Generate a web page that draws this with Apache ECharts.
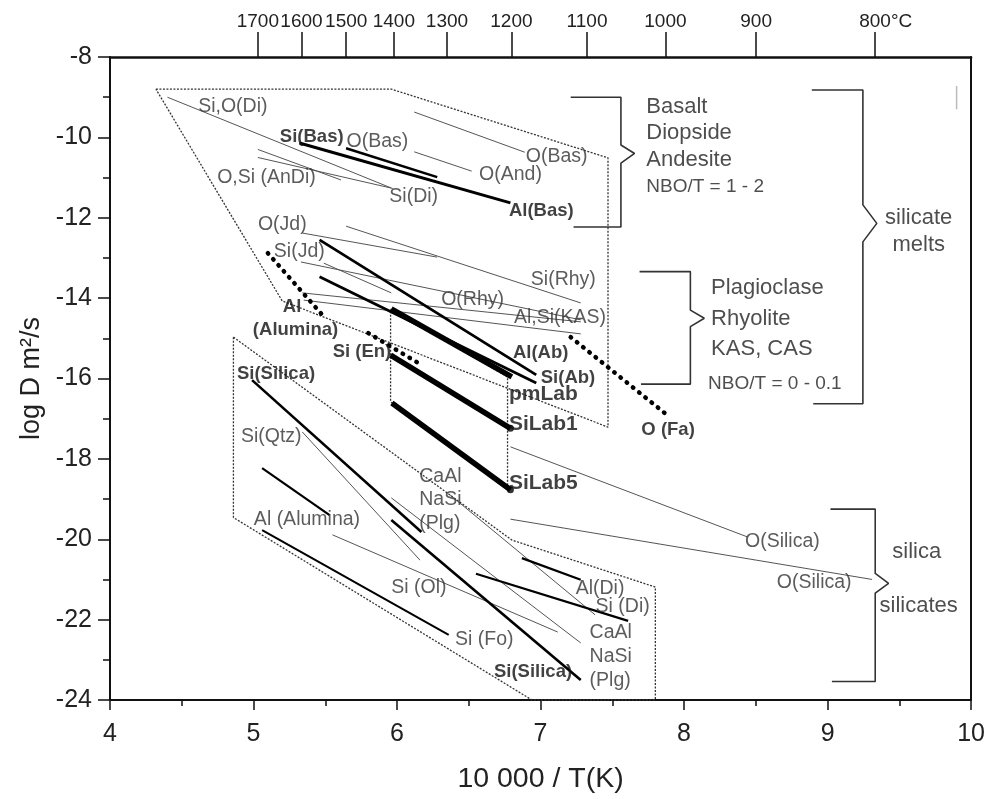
<!DOCTYPE html>
<html><head><meta charset="utf-8">
<script src="https://cdn.jsdelivr.net/npm/echarts@6/dist/echarts.min.js"></script>
<style>html,body{margin:0;padding:0;background:#fff}#c{width:988px;height:799px}</style>
</head><body><div id="c"></div>
<script>
// ---------- axis ticks ----------
const tempLabels = ['1700','1600','1500','1400','1300','1200','1100','1000','900','800°C'];
const tempPositions = [5.03,5.334,5.646,5.978,6.348,6.797,7.324,7.870,8.502,9.332];

// ---------- envelopes (dotted outlines) ----------
const meltEnvelope = [[4.32,-8.80],[5.96,-8.80],[7.47,-10.51],[7.47,-17.21],[5.20,-14.07],[4.32,-8.80]];
const labradoriteBox = [[5.955,-14.27],[6.77,-15.96],[6.77,-18.77],[5.955,-16.58],[5.955,-14.27]];
const silicaEnvelope = [[4.86,-14.97],[6.80,-20.02],[7.80,-21.19],[7.80,-24.0],[6.94,-24.0],[4.86,-19.46],[4.86,-14.97]];

// ---------- Arrhenius lines: [start, end] ----------
const thinLines = [
  [[4.40,-9.00],[5.96,-11.26]],   // Si,O(Di)
  [[6.12,-9.37],[6.89,-10.37]],   // O(Bas)
  [[6.12,-10.36],[6.52,-10.84]],  // O(And)
  [[5.03,-10.30],[5.61,-11.06]],  // O,Si(AnDi)
  [[5.03,-10.50],[5.97,-11.27]],  // O,Si(AnDi)
  [[5.34,-12.38],[6.28,-12.98]],  // O(Jd)
  [[5.645,-12.21],[7.28,-14.12]], // Si(Rhy)
  [[5.49,-13.13],[5.96,-13.87]],  // Si(Jd)
  [[5.33,-13.10],[7.28,-14.54]],  // O(Rhy)
  [[5.34,-13.87],[7.28,-14.59]],  // Al,Si(KAS)
  [[5.35,-14.05],[7.28,-14.89]],  // Al,Si(KAS)
  [[5.34,-17.33],[6.16,-20.52]],  // Si(Qtz)
  [[5.55,-19.89],[7.12,-22.31]],  // Si(Ol)
  [[5.96,-18.97],[7.28,-22.58]],  // CaAl-NaSi(Plg)
  [[6.37,-18.90],[7.38,-21.88]],  // CaAl-NaSi(Plg)
  [[6.79,-17.70],[8.44,-19.94]],  // O(Silica)
  [[6.79,-19.50],[9.31,-21.00]]   // O(Silica)
];
const thickLines = [
  [[5.32,-10.14],[6.79,-11.63]],  // Si(Bas)-Al(Bas)
  [[5.645,-10.27],[6.28,-10.99]], // O(Bas)
  [[5.46,-12.55],[6.97,-15.91]],  // Al(Ab)
  [[5.46,-13.47],[6.97,-16.11]],  // Si(Ab)
  [[4.99,-16.04],[6.17,-19.82]],  // Si(Silica)
  [[5.96,-19.52],[7.28,-23.50]],  // Si(Silica)
  [[5.06,-18.23],[5.53,-19.40]],  // Al(Alumina)
  [[5.06,-19.77],[6.36,-22.38]],  // Si(Fo)
  [[6.87,-20.47],[7.28,-21.01]],  // Al(Di)
  [[6.55,-20.86],[7.61,-22.03]]   // Si(Di)
];
const heavyLines = [
  [[5.96,-14.27],[6.80,-15.96]],  // pmLab
  [[5.955,-15.42],[6.79,-17.24]], // SiLab1
  [[5.964,-16.61],[6.79,-18.77]]  // SiLab5
];
const dottedLines = [
  [[5.10,-12.88],[5.485,-14.44]], // Al(Alumina)
  [[5.80,-14.87],[6.16,-15.64]],  // Si(En)
  [[7.21,-14.97],[7.865,-16.86]]  // O(Fa)
];

// ---------- grouping brackets ----------
const bracketMelts1 = [[7.21,-9.0],[7.56,-9.0],[7.56,-10.19],[7.655,-10.40],[7.56,-10.64],[7.56,-12.23],[7.23,-12.23]];
const bracketMelts2 = [[7.69,-13.34],[8.044,-13.34],[8.044,-14.30],[8.141,-14.50],[8.044,-14.71],[8.044,-16.14],[7.70,-16.14]];
const bracketMelts = [[8.89,-8.82],[9.246,-8.82],[9.246,-11.68],[9.343,-12.14],[9.246,-12.60],[9.246,-16.63],[8.90,-16.63]];
const bracketSilica = [[9.02,-19.25],[9.332,-19.25],[9.332,-20.85],[9.425,-21.10],[9.332,-21.34],[9.332,-23.54],[9.03,-23.54]];
const cornerMark = [[9.899,-8.72],[9.899,-9.30]];

// ---------- labels ----------
const plainLabels = ['Si,O(Di)','O(Bas)','O(Bas)','O(And)','O,Si (AnDi)','Si(Di)','O(Jd)','Si(Jd)','Si(Rhy)','O(Rhy)','Al,Si(KAS)',
  'Si(Qtz)','CaAl','NaSi','(Plg)','Al (Alumina)','Si (Ol)','Si (Fo)','Al(Di)','Si (Di)','CaAl','NaSi','(Plg)','O(Silica)','O(Silica)'];
const plainAnchors = [[4.611,-9.244],[5.645,-10.115],[6.894,-10.488],[6.568,-10.936],[4.743,-11.011],[5.943,-11.484],[5.027,-12.18],
  [5.138,-12.852],[6.929,-13.549],[6.304,-14.046],[6.811,-14.494],[4.909,-17.455],[6.151,-18.45],[6.151,-19.02],[6.151,-19.62],
  [4.999,-19.52],[5.957,-21.21],[6.401,-22.505],[7.241,-21.237],[7.38,-21.685],[7.338,-22.33],[7.338,-22.93],[7.338,-23.53],
  [8.421,-20.07],[8.643,-21.09]];
const boldLabels = ['Si(Bas)','Al(Bas)','Al','(Alumina)','Si (En)','Al(Ab)','Si(Ab)','pmLab','SiLab1','O (Fa)','Si(Silica)','SiLab5','Si(Silica)'];
const boldAnchors = [[5.18,-9.991],[6.776,-11.832],[5.201,-14.22],[4.992,-14.79],[5.548,-15.34],[6.804,-15.365],[6.998,-15.987],
  [6.776,-16.385],[6.776,-17.13],[7.699,-17.28],[4.881,-15.89],[6.776,-18.6],[6.672,-23.3]];
const boldLarge = [false,false,false,false,false,false,false,true,true,false,false,true,false];
const noteLabels = ['Basalt','Diopside','Andesite','NBO/T = 1 - 2','Plagioclase','Rhyolite','KAS, CAS','NBO/T = 0 - 0.1'];
const noteAnchors = [[7.733,-9.244],[7.733,-9.89],[7.733,-10.563],[7.733,-11.235],[8.185,-13.748],[8.185,-14.52],[8.185,-15.266],[8.164,-16.136]];
const noteSmall = [false,false,false,true,false,false,false,true];
const groupLabels = ['silicate','melts','silica','silicates'];
const groupAnchors = [[9.635,-12.006],[9.635,-12.68],[9.621,-20.32],[9.635,-21.66]];

// ---------- styles ----------
const FONT = "'Liberation Sans', Arial, sans-serif";
const thickWidths = [3,2.5,2.8,2.8,2.6,2.6,2.2,2,2.2,2.2];

const chart = echarts.init(document.getElementById('c'), null, {renderer:'canvas'});
const series = [];
function seg(data, style, z) {
  series.push({type:'line', data:data, xAxisIndex:0, yAxisIndex:0, symbol:'none', showSymbol:false,
    lineStyle:style, silent:true, z:z||2, animation:false});
}
const dotOutline = {color:'#333', width:1.3, type:[2,1.5]};
seg(meltEnvelope, dotOutline);
seg(labradoriteBox, dotOutline);
seg(silicaEnvelope, dotOutline);
thinLines.forEach(l => seg(l, {color:'#555', width:1}));
thickLines.forEach((l,i) => seg(l, {color:'#000', width:thickWidths[i]}, 3));
heavyLines.forEach(l => seg(l, {color:'#000', width:5.5}, 4));
dottedLines.forEach(l => seg(l, {color:'#000', width:4.5, type:[0.5,7.5], cap:'round'}, 4));
[bracketMelts1, bracketMelts2, bracketMelts, bracketSilica].forEach(b => seg(b, {color:'#333', width:1.6}, 2));
seg(cornerMark, {color:'#bbb', width:1.5});

series.push({type:'scatter', data:[heavyLines[1][1], heavyLines[2][1]], symbolSize:7, itemStyle:{color:'#000'}, silent:true, z:5, animation:false});

function labelSeries(texts, anchors, style, pos) {
  series.push({type:'scatter', data:anchors.map((a,i)=>({value:a, name:texts[i], label:style(i)})), symbolSize:1,
    itemStyle:{color:'rgba(0,0,0,0)'}, silent:true, z:6, animation:false,
    label:{show:true, position:pos||'right', distance:0, formatter:p=>p.name, fontFamily:FONT}});
}
labelSeries(plainLabels, plainAnchors, i=>({fontSize:19.5, color:'#333'}));
labelSeries(boldLabels, boldAnchors, i=>({fontSize:boldLarge[i]?21:18.5, color:'#111', fontWeight:'bold'}));
labelSeries(noteLabels, noteAnchors, i=>({fontSize:noteSmall[i]?19:22, color:'#222'}));
labelSeries(groupLabels, groupAnchors, i=>({fontSize:22, color:'#222', align:'center'}), 'inside');

chart.setOption({
  animation:false,
  backgroundColor:'#fff',
  textStyle:{fontFamily:FONT},
  grid:{left:110, right:14, top:57, bottom:99, containLabel:false},
  xAxis:[{
    type:'value', min:4, max:10, interval:1, position:'bottom',
    axisLine:{show:true, onZero:false, lineStyle:{color:'#111', width:2}},
    axisTick:{show:true, length:10, lineStyle:{color:'#111', width:1.5}},
    minorTick:{show:true, splitNumber:2, length:6, lineStyle:{color:'#111', width:1.5}},
    splitLine:{show:false},
    axisLabel:{fontSize:25, color:'#222', margin:22, fontFamily:FONT},
    name:'10 000 / T(K)', nameLocation:'middle', nameGap:65,
    nameTextStyle:{fontSize:28.5, color:'#222', fontFamily:FONT}
  },{
    type:'value', min:4, max:10, position:'top',
    axisLine:{show:true, onZero:false, lineStyle:{color:'#111', width:2.5}},
    axisTick:{show:true, customValues:tempPositions, length:25, lineStyle:{color:'#111', width:1.5}},
    axisLabel:{show:true, customValues:tempPositions, hideOverlap:false, interval:0, fontSize:19, color:'#222', margin:26, fontFamily:FONT,
      formatter:v=>{const i=tempPositions.indexOf(v); return i===tempLabels.length-1 ? '{t|'+tempLabels[i]+'}' : (i>=0?tempLabels[i]:'');},
      rich:{t:{fontSize:19, color:'#222', fontFamily:FONT, padding:[0,0,0,21]}}},
    splitLine:{show:false}
  }],
  yAxis:[{
    type:'value', min:-24, max:-8, interval:2,
    axisLine:{show:true, onZero:false, lineStyle:{color:'#111', width:2}},
    axisTick:{show:true, length:12, lineStyle:{color:'#111', width:1.5}},
    minorTick:{show:true, splitNumber:2, length:7, lineStyle:{color:'#111', width:1.5}},
    splitLine:{show:false},
    axisLabel:{fontSize:25, color:'#222', margin:18, fontFamily:FONT},
    name:'log D m²/s', nameLocation:'middle', nameGap:64, nameRotate:90,
    nameTextStyle:{fontSize:27, color:'#222', fontFamily:FONT}
  },{
    type:'value', min:-24, max:-8, position:'right',
    axisLine:{show:true, onZero:false, lineStyle:{color:'#111', width:2}},
    axisTick:{show:false}, axisLabel:{show:false}, splitLine:{show:false}
  }],
  series:series
});
</script></body></html>
